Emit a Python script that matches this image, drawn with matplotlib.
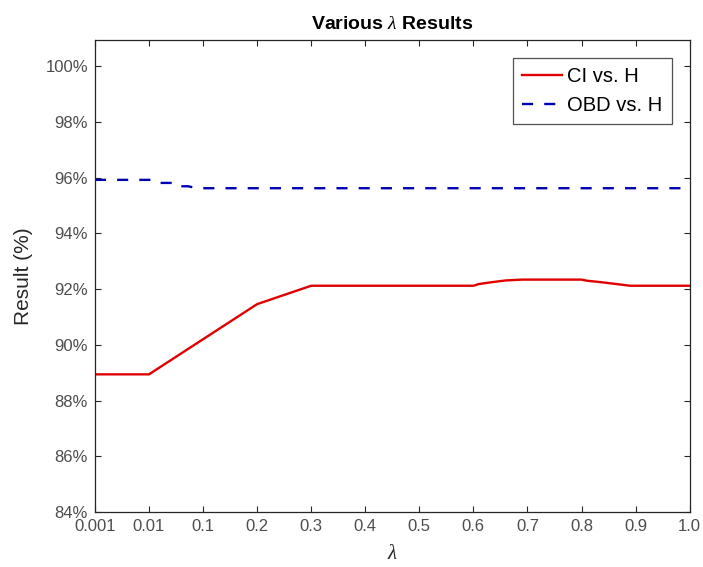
import numpy as np
import matplotlib
matplotlib.use("Agg")
import matplotlib.pyplot as plt

plt.rcParams['font.family'] = ['Liberation Sans', 'DejaVu Sans']
plt.rcParams['mathtext.fontset'] = 'custom'
plt.rcParams['mathtext.it'] = 'Liberation Serif:italic'

# tick lambdas, shown equally spaced
tick_lams = [0.001, 0.01, 0.1, 0.2, 0.3, 0.4, 0.5, 0.6, 0.7, 0.8, 0.9, 1.0]
tick_labels = ['0.001', '0.01', '0.1', '0.2', '0.3', '0.4', '0.5', '0.6', '0.7', '0.8', '0.9', '1.0']

# CI vs. H
ci_lam = [0.001, 0.01, 0.1, 0.2, 0.3, 0.4, 0.5, 0.6, 0.61, 0.635, 0.66, 0.69, 0.8, 0.81, 0.835, 0.865, 0.89, 0.9, 1.0]
ci_val = [88.94, 88.94, 90.2, 91.46, 92.12, 92.12, 92.12, 92.12, 92.18, 92.25, 92.31, 92.34, 92.34, 92.3, 92.25, 92.18, 92.12, 92.12, 92.12]

# OBD vs. H
obd_lam = [0.001, 0.01, 0.02, 0.028, 0.05, 0.055, 0.075, 0.09, 0.1, 1.0]
obd_val = [95.92, 95.92, 95.92, 95.81, 95.81, 95.69, 95.69, 95.62, 95.62, 95.62]

yticks = [84, 86, 88, 90, 92, 94, 96, 98, 100]


def to_pos(lams):
    return np.interp(lams, tick_lams, np.arange(len(tick_lams)))


fig = plt.figure(figsize=(7.03, 5.67), dpi=100)
ax = fig.add_axes([0.135, 0.097, 0.846, 0.832])

ax.plot(to_pos(ci_lam), ci_val, color='#e00000', lw=1.7, label='CI vs. H')
ax.plot(to_pos(obd_lam), obd_val, color='#0000b4', lw=1.7, ls=(0, (4.7, 4.7)), label='OBD vs. H')

ax.set_xlim(0, len(tick_lams) - 1)
ax.set_ylim(84, 100.93)
ax.set_xticks(np.arange(len(tick_lams)))
ax.set_xticklabels(tick_labels)
ax.set_yticks(yticks)
ax.set_yticklabels([f'{v}%' for v in yticks])

ax.tick_params(direction='in', top=True, right=True, length=4, width=0.8,
               colors='#262626', labelcolor='#4d4d4d', labelsize=12, pad=5)
for s in ax.spines.values():
    s.set_color('#262626')
    s.set_linewidth(0.9)

ax.set_title(r'Various $\lambda$ Results', fontsize=14, fontweight='bold', pad=8)
ax.set_ylabel('Result (%)', fontsize=15, color='#262626', labelpad=9)
ax.set_xlabel(r'$\mathit{\lambda}$', fontsize=15, color='#262626', labelpad=7)

leg = ax.legend(loc='upper right', bbox_to_anchor=(0.97, 0.962), fontsize=14.5,
                frameon=True, fancybox=False, edgecolor='#262626',
                handlelength=2.0, handletextpad=0.25, borderpad=0.45,
                labelspacing=0.5, borderaxespad=0)
leg.get_frame().set_linewidth(0.9)

fig.savefig('out.png', dpi=100)
